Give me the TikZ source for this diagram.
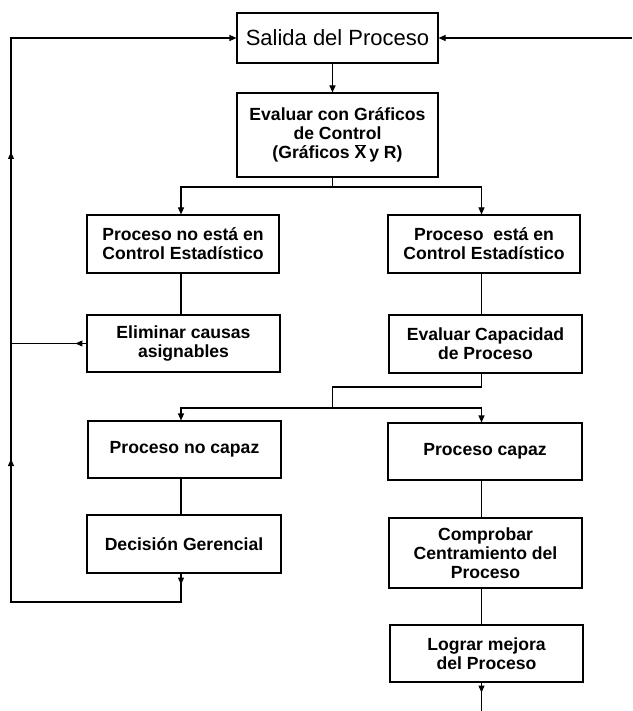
\documentclass[tikz,border=0pt]{standalone}
\usepackage{fontspec}
\setmainfont{Liberation Sans}
\usetikzlibrary{arrows.meta}
\begin{document}
\begin{tikzpicture}[x=1pt,y=-1pt,
  box/.style={draw, line width=1.1pt, align=center, inner sep=2pt,
    font=\bfseries\fontsize{17.6}{19}\selectfont},
  conn/.style={line width=1.1pt},
  arr/.style={line width=1.1pt, -{Triangle[length=7pt,width=6pt]}},
]
\useasboundingbox (0,0) rectangle (632,711);
% nodes
\node[draw, line width=1.1pt, minimum width=201pt, minimum height=50pt, inner sep=0pt,
  font=\fontsize{22}{24}\selectfont] (salida) at (337.5,38) {Salida del Proceso};
\node[box, minimum width=201pt, minimum height=84pt] (evaluar) at (337.5,135)
  {Evaluar con Gráficos\\de Control\\(Gráficos $\overline{\hbox{X}}$\,y R)};
\node[box, minimum width=192pt, minimum height=58pt] (nocontrol) at (183,244)
  {Proceso no está en\\Control Estadístico};
\node[box, minimum width=192pt, minimum height=58pt] (control) at (484,244)
  {Proceso\ \ está en\\Control Estadístico};
\node[box, minimum width=193pt, minimum height=57pt] (elim) at (183.5,343.5)
  {Eliminar causas\\asignables};
\node[box, minimum width=193pt, minimum height=58pt] (capac) at (485.5,344)
  {Evaluar Capacidad\\de Proceso};
\node[box, minimum width=193pt, minimum height=57pt] (nocapaz) at (184.5,449.5)
  {Proceso no capaz};
\node[box, minimum width=194pt, minimum height=57pt] (capaz) at (485,451.5)
  {Proceso capaz};
\node[box, minimum width=194pt, minimum height=58pt] (decision) at (184,544)
  {Decisión Gerencial};
\node[box, minimum width=193pt, minimum height=70pt] (comprobar) at (485.5,553)
  {Comprobar\\Centramiento del\\Proceso};
\node[box, minimum width=193pt, minimum height=57pt] (lograr) at (486.5,653.5)
  {Lograr mejora\\del Proceso};
% helper coordinates
\coordinate (Lc) at (181,0);
\coordinate (Rc) at (481.5,0);
\coordinate (Mc) at (332.5,0);
\coordinate (loopx) at (11,0);
\coordinate (split1) at (0,187);
\coordinate (kink) at (0,387);
\coordinate (split2) at (0,408);
\coordinate (bottomloop) at (0,602);
\coordinate (rightEdge) at (632,0);
\coordinate (bottomEdge) at (0,711);
\coordinate (up1) at (11,152);
\coordinate (up2) at (11,459);
% connectors
\draw[arr] (rightEdge |- salida.east) -- (salida.east);
\draw[arr] (Mc |- salida.south) -- (Mc |- evaluar.north);
\draw[conn] (Mc |- evaluar.south) -- (Mc |- split1);
\draw[arr] (Mc |- split1) -- (Lc |- split1) -- (Lc |- nocontrol.north);
\draw[arr] (Mc |- split1) -- (Rc |- split1) -- (Rc |- control.north);
\draw[conn] (Lc |- nocontrol.south) -- (Lc |- elim.north);
\draw[conn] (Rc |- control.south) -- (Rc |- capac.north);
\draw[conn] (Rc |- capac.south) -- (Rc |- kink) -- (Mc |- kink) -- (Mc |- split2);
\draw[arr] (Mc |- split2) -- (Lc |- split2) -- (Lc |- nocapaz.north);
\draw[arr] (Mc |- split2) -- (Rc |- split2) -- (Rc |- capaz.north);
\draw[conn] (Lc |- nocapaz.south) -- (Lc |- decision.north);
\draw[conn] (Rc |- capaz.south) -- (Rc |- comprobar.north);
\draw[conn] (Rc |- comprobar.south) -- (Rc |- lograr.north);
% loop back
\draw[arr] (Lc |- decision.south) -- (Lc |- bottomloop) -- (loopx |- bottomloop)
  -- (loopx |- salida.west) -- (salida.west);
\draw[arr] (Lc |- decision.south) -- ++(0,11);
\draw[conn] (elim.west) -- (loopx |- elim.west);
\draw[arr] (elim.west) -- ++(-11,0);
\draw[arr] ([yshift=-8pt]up1) -- (up1);
\draw[arr] ([yshift=-8pt]up2) -- (up2);
% final output
\draw[conn] (Rc |- lograr.south) -- (Rc |- bottomEdge);
\draw[arr] (Rc |- lograr.south) -- ++(0,10);
\end{tikzpicture}
\end{document}
